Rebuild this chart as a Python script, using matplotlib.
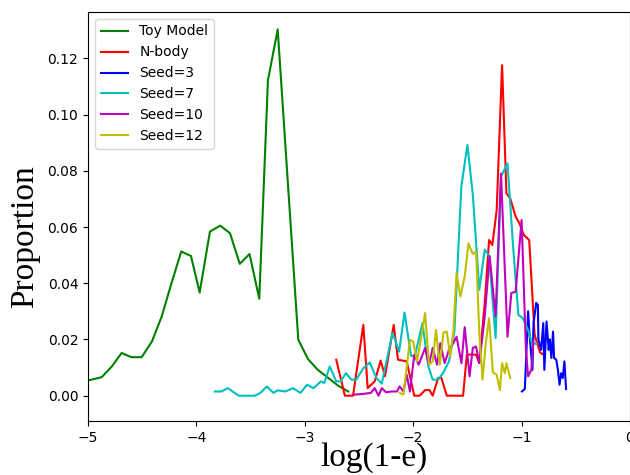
import matplotlib
matplotlib.use('Agg')
import matplotlib.pyplot as plt

# values
toy_x = [-5.0, -4.874, -4.78, -4.69, -4.60, -4.505, -4.41, -4.32, -4.23, -4.14,
         -4.05, -3.97, -3.875, -3.78, -3.69, -3.60, -3.51, -3.42, -3.34, -3.25,
         -3.155, -3.06, -2.97, -2.88, -2.78, -2.69, -2.60]
toy_y = [0.0054, 0.0066, 0.0104, 0.0152, 0.0137, 0.0137, 0.0193, 0.0282, 0.040, 0.0513,
         0.0497, 0.0367, 0.0584, 0.0605, 0.0578, 0.0469, 0.0504, 0.0345, 0.1122, 0.1303,
         0.075, 0.0199, 0.013, 0.0092, 0.0062, 0.0035, 0.0015]

nbody_x = [-2.71, -2.63, -2.555, -2.46, -2.42, -2.355, -2.30, -2.26, -2.18, -2.14,
           -2.06, -1.99, -1.94, -1.89, -1.85, -1.82, -1.77, -1.74, -1.69, -1.54,
           -1.505, -1.42, -1.39, -1.34, -1.30, -1.27, -1.23, -1.18, -1.14, -1.105,
           -1.055, -1.02, -0.98, -0.93, -0.88, -0.83, -0.80]
nbody_y = [0.0128, 0.0, 0.0, 0.0252, 0.0027, 0.0051, 0.0125, 0.0069, 0.0252, 0.0128,
           0.0122, 0.0, 0.0, 0.002, 0.002, 0.0, 0.0063, 0.0063, 0.0, 0.0,
           0.0146, 0.0146, 0.0116, 0.033, 0.0554, 0.0536, 0.066, 0.1176, 0.072, 0.0702,
           0.0637, 0.0613, 0.0572, 0.0554, 0.0217, 0.0154, 0.0146]

seed3_x = [-0.997, -0.97, -0.94, -0.93, -0.90, -0.89, -0.865, -0.85, -0.845, -0.82,
           -0.80, -0.79, -0.77, -0.75, -0.74, -0.725, -0.71, -0.70, -0.68, -0.665,
           -0.65, -0.635, -0.62, -0.605, -0.59]
seed3_y = [0.0015, 0.0024, 0.030, 0.0234, 0.0092, 0.0258, 0.033, 0.0323, 0.02, 0.0163,
           0.0258, 0.0092, 0.0264, 0.0163, 0.02, 0.0134, 0.0228, 0.0134, 0.0128, 0.0092,
           0.0039, 0.008, 0.0063, 0.0122, 0.0024]

seed7_x = [-3.83, -3.77, -3.71, -3.61, -3.46, -3.41, -3.35, -3.29, -3.25, -3.18,
           -3.11, -3.04, -2.98, -2.92, -2.85, -2.82, -2.77, -2.71, -2.67, -2.62,
           -2.57, -2.525, -2.46, -2.40, -2.34, -2.29, -2.25, -2.19, -2.13, -2.08,
           -2.02, -1.985, -1.915, -1.86, -1.82, -1.77, -1.725, -1.67, -1.62, -1.556,
           -1.50, -1.45, -1.39, -1.34, -1.30, -1.24, -1.19, -1.13, -1.08, -1.03,
           -0.99, -0.94, -0.90, -0.865]
seed7_y = [0.0015, 0.0015, 0.0027, 0.0, 0.0, 0.001, 0.0033, 0.001, 0.0019, 0.0015,
           0.0027, 0.001, 0.0039, 0.0027, 0.0051, 0.0045, 0.0104, 0.0051, 0.0051, 0.008,
           0.0057, 0.0057, 0.0098, 0.0118, 0.0063, 0.0043, 0.0116, 0.0223, 0.0157, 0.0296,
           0.0142, 0.014, 0.0258, 0.0104, 0.0057, 0.0057, 0.008, 0.0122, 0.0228, 0.0744,
           0.0892, 0.0715, 0.0377, 0.052, 0.0497, 0.0205, 0.078, 0.0826, 0.054, 0.0288,
           0.0276, 0.0234, 0.018, 0.0187]

seed10_x = [-2.54, -2.47, -2.39, -2.355, -2.32, -2.29, -2.25, -2.20, -2.15, -2.125,
            -2.09, -2.06, -2.03, -1.99, -1.95, -1.89, -1.855, -1.82, -1.78, -1.75,
            -1.71, -1.67, -1.63, -1.60, -1.555, -1.525, -1.48, -1.45, -1.42, -1.39,
            -1.34, -1.295, -1.24, -1.19, -1.13, -1.095, -1.055, -1.00, -0.96, -0.94,
            -0.91, -0.89]
seed10_y = [0.0004, 0.0006, 0.001, 0.0027, 0.0, 0.0027, 0.0012, 0.0015, 0.0015, 0.0033,
            0.0015, 0.0075, 0.0015, 0.0146, 0.011, 0.017, 0.011, 0.017, 0.011, 0.0187,
            0.0116, 0.0163, 0.0187, 0.021, 0.0116, 0.0244, 0.0069, 0.017, 0.0175, 0.0116,
            0.0282, 0.0497, 0.0282, 0.079, 0.021, 0.0365, 0.037, 0.0625, 0.0163, 0.0069,
            0.0092, 0.02]

seed12_x = [-2.125, -2.09, -2.03, -2.0, -1.965, -1.925, -1.89, -1.855, -1.82, -1.79,
            -1.755, -1.72, -1.69, -1.66, -1.63, -1.60, -1.565, -1.525, -1.49, -1.45,
            -1.42, -1.39, -1.36, -1.33, -1.30, -1.265, -1.23, -1.20, -1.18, -1.155,
            -1.14, -1.105]
seed12_y = [0.001, 0.0004, 0.0199, 0.0193, 0.0122, 0.021, 0.0294, 0.011, 0.0122, 0.0234,
            0.011, 0.0225, 0.0228, 0.014, 0.0223, 0.0436, 0.0353, 0.0424, 0.0542, 0.0504,
            0.0513, 0.0223, 0.0057, 0.0187, 0.0276, 0.0083, 0.0075, 0.002, 0.0116, 0.008,
            0.0116, 0.0063]

fig = plt.figure(figsize=(6.3, 4.75), dpi=100)
ax = fig.add_axes([88 / 630, 54 / 475, 542 / 630, 409 / 475])

ax.plot(toy_x, toy_y, color='g', label='Toy Model')
ax.plot(nbody_x, nbody_y, color='r', label='N-body')
ax.plot(seed3_x, seed3_y, color='b', label='Seed=3')
ax.plot(seed7_x, seed7_y, color='c', label='Seed=7')
ax.plot(seed10_x, seed10_y, color='m', label='Seed=10')
ax.plot(seed12_x, seed12_y, color='y', label='Seed=12')

ax.set_xlim(-5, 0)
ax.set_ylim(-0.009, 0.1365)
ax.set_xticks([-5, -4, -3, -2, -1, 0])
ax.set_yticks([0.0, 0.02, 0.04, 0.06, 0.08, 0.10, 0.12])

ax.set_xlabel('log(1-e)', family='Liberation Serif', fontsize=24)
ax.set_ylabel('Proportion', family='Liberation Serif', fontsize=24)
ax.xaxis.set_label_coords(0.528, -0.053)
ax.yaxis.set_label_coords(-0.088, 0.45)
ax.legend(loc='upper left')

fig.savefig('out.png', dpi=100)
